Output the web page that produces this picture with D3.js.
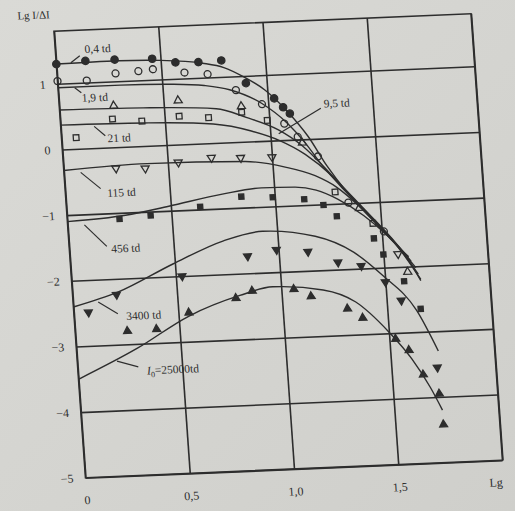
<!doctype html>
<html lang='en'>
<head>
<meta charset="utf-8">
<script src="https://d3js.org/d3.v7.min.js"></script>
<title>Lg I/ΔI</title>
<style>
  body{
    margin: 0;
    background: #d5d5d1;
  }
  svg{
    display: block;
    font-family: "Liberation Serif", "DejaVu Serif", serif;
  }
</style>
</head>
<body>
<div id='chart'></div>
<script>
// fitted curves, [lg t, lg I/dI]
const curve04 = [[0,1.3],[0.3,1.31],[0.5,1.29],[0.7,1.22],[0.8,1.14],[0.89,0.99],[0.99,0.77],[1.09,0.43],[1.18,0.04],[1.26,-0.42],[1.34,-0.8],[1.44,-1.18],[1.54,-1.55],[1.61,-1.88],[1.67,-2.2]];
const curve19 = [[0,0.94],[0.3,0.94],[0.55,0.92],[0.7,0.88],[0.82,0.8],[0.97,0.57],[1.08,0.27],[1.16,-0.04],[1.24,-0.42],[1.33,-0.78],[1.43,-1.15],[1.53,-1.52],[1.6,-1.82],[1.66,-2.12]];
const curve95 = [[0,0.6],[0.4,0.58],[0.75,0.52],[0.89,0.37],[1.04,0.16],[1.15,-0.1],[1.25,-0.45],[1.34,-0.8],[1.44,-1.17],[1.54,-1.55],[1.6,-1.8],[1.65,-2.02]];
const curve21 = [[0,0.37],[0.4,0.35],[0.73,0.29],[0.91,0.16],[1.04,0.0],[1.16,-0.23],[1.28,-0.57],[1.37,-0.9],[1.47,-1.27],[1.56,-1.62],[1.63,-1.92]];
const curve115 = [[0,-0.32],[0.4,-0.27],[0.87,-0.3],[1.06,-0.41],[1.2,-0.56],[1.3,-0.75],[1.4,-1.05],[1.5,-1.42],[1.57,-1.68],[1.62,-1.85]];
const curve456 = [[0,-1.1],[0.28,-1.04],[0.49,-0.93],[0.75,-0.78],[0.94,-0.71],[1.1,-0.72],[1.2,-0.78],[1.3,-0.93],[1.42,-1.2],[1.52,-1.5],[1.6,-1.8],[1.67,-2.22]];
const curve3400 = [[0,-2.4],[0.22,-2.2],[0.49,-1.81],[0.74,-1.49],[0.93,-1.37],[1.18,-1.48],[1.36,-1.75],[1.49,-2.12],[1.64,-2.67],[1.73,-3.3]];
const curve25000 = [[0,-3.5],[0.29,-3.07],[0.55,-2.61],[0.8,-2.33],[0.96,-2.22],[1.2,-2.3],[1.35,-2.5],[1.5,-2.98],[1.6,-3.4],[1.68,-3.85],[1.73,-4.2]];

// measured points
const pts04 = [[0,1.3],[0.14,1.33],[0.28,1.33],[0.46,1.32],[0.57,1.25],[0.68,1.24],[0.79,1.25],[0.9,0.89],[1.03,0.64],[1.07,0.5],[1.1,0.4]];
const pts19 = [[0,1.04],[0.14,1.03],[0.28,1.12],[0.39,1.14],[0.46,1.16],[0.61,1.09],[0.72,1.05],[0.85,0.79],[0.97,0.56],[1.07,0.25],[1.13,0.04],[1.22,-0.27],[1.35,-0.99],[1.51,-1.45]];
const pts95 = [[0.26,0.63],[0.57,0.67],[0.87,0.54],[1.15,-0.05],[1.4,-1.08],[1.61,-2.08]];
const pts21 = [[0.07,0.17],[0.25,0.43],[0.39,0.38],[0.57,0.43],[0.71,0.39],[0.87,0.45],[0.99,0.31],[1.29,-0.82],[1.46,-1.32]];
const pts115 = [[0.25,-0.32],[0.39,-0.34],[0.55,-0.27],[0.71,-0.22],[0.85,-0.24],[1.0,-0.25],[1.57,-1.8]];
const pts456 = [[0.25,-1.09],[0.4,-1.06],[0.64,-0.96],[0.84,-0.83],[0.99,-0.86],[1.14,-0.91],[1.23,-1.01],[1.29,-1.19],[1.46,-1.55],[1.5,-1.8],[1.59,-2.22],[1.66,-2.65]];
const pts3400 = [[0.07,-2.49],[0.21,-2.24],[0.53,-2.0],[0.85,-1.74],[0.99,-1.66],[1.14,-1.71],[1.28,-1.89],[1.39,-1.96],[1.5,-2.22],[1.57,-2.51],[1.72,-3.55]];
const pts25000 = [[0.25,-2.8],[0.39,-2.79],[0.55,-2.56],[0.78,-2.37],[0.86,-2.27],[1.06,-2.27],[1.14,-2.39],[1.31,-2.6],[1.38,-2.75],[1.53,-3.09],[1.59,-3.27],[1.65,-3.65],[1.72,-3.95],[1.73,-4.42]];

const xTicks = [0, 0.5, 1, 1.5, 2];
const xTickLabels = ['0', '0,5', '1,0', '1,5', ''];
const yTicks = [1, 0, -1, -2, -3, -4, -5];
const yTickLabels = ['1', '0', '−1', '−2', '−3', '−4', '−5'];

// curve labels: text, text anchor point, pointer from, pointer to
const labels = [
  {text: '0,4 td', at: [0.14, 1.45], from: [0.07, 1.31], to: [0.115, 1.41]},
  {text: '1,9 td', at: [0.11, 0.71], from: [0.08, 0.93], to: [0.11, 0.85]},
  {text: '21 td', at: [0.22, 0.08], from: [0.16, 0.33], to: [0.21, 0.18]},
  {text: '9,5 td', at: [1.265, 0.47], from: [1.04, 0.1], to: [1.25, 0.46]},
  {text: '115 td', at: [0.2, -0.75], from: [0.08, -0.36], to: [0.17, -0.62]},
  {text: '456 td', at: [0.2, -1.6], from: [0.08, -1.16], to: [0.18, -1.5]},
  {text: '3400 td', at: [0.25, -2.63], from: [0.12, -2.34], to: [0.21, -2.53]},
  {text: '=25000td', sub: true, at: [0.33, -3.47], from: [0.19, -3.25], to: [0.29, -3.35]}
];

const ink = '#2d2d2d';
const wsvg = 515, hsvg = 511;
const W = 417, H = 446.5;

const xScale = d3.scaleLinear().domain([0, 2]).range([0, W]);
const yScale = d3.scaleLinear().domain([1.8, -5]).range([0, H]);

const svg = d3.select('#chart')
  .append('svg')
  .attr('width', wsvg)
  .attr('height', hsvg);

const grad = svg.append('defs').append('linearGradient')
  .attr('id', 'paper')
  .attr('x1', 0).attr('y1', 0).attr('x2', 1).attr('y2', 1);
grad.append('stop').attr('offset', 0).attr('stop-color', '#dadad6');
grad.append('stop').attr('offset', 1).attr('stop-color', '#cfcfcb');

svg.append('rect')
  .attr('width', wsvg)
  .attr('height', hsvg)
  .attr('fill', 'url(#paper)');

// the page is photographed slightly turned, so the whole plot sits in a skewed frame
const plot = svg.append('g')
  .attr('transform', 'matrix(1,-0.042,0.0705,1,54,31.25)');

const yAxis = d3.axisLeft(yScale)
  .tickValues(yTicks)
  .tickSize(-W)
  .tickPadding(12)
  .tickFormat((d, i) => yTickLabels[i]);

const xAxis = d3.axisBottom(xScale)
  .tickValues(xTicks)
  .tickSize(-H)
  .tickPadding(18)
  .tickFormat((d, i) => xTickLabels[i]);

const gy = plot.append('g').attr('id', 'y-axis').call(yAxis);
const gx = plot.append('g').attr('id', 'x-axis')
  .attr('transform', 'translate(0,' + H + ')')
  .call(xAxis);

[gx, gy].forEach(g => {
  g.select('.domain').remove();
  g.selectAll('line').attr('stroke', ink).attr('stroke-width', 1.6);
  g.selectAll('text')
    .attr('fill', ink)
    .attr('font-size', 12)
    .attr('font-family', '"Liberation Serif", serif');
});

// frame
plot.append('rect')
  .attr('x', xScale(0))
  .attr('y', yScale(1.8))
  .attr('width', xScale(2) - xScale(0))
  .attr('height', yScale(-5) - yScale(1.8))
  .attr('fill', 'none')
  .attr('stroke', ink)
  .attr('stroke-width', 1.6);

plot.append('text')
  .attr('x', xScale(-0.17))
  .attr('y', yScale(2.0))
  .attr('fill', ink)
  .attr('font-size', 11)
  .text('Lg I/ΔI');

plot.append('text')
  .attr('x', xScale(1.93))
  .attr('y', H + 26)
  .attr('fill', ink)
  .attr('font-size', 12)
  .text('Lg');

const line = d3.line()
  .x(d => xScale(d[0]))
  .y(d => yScale(d[1]))
  .curve(d3.curveMonotoneX);

[curve04, curve19, curve95, curve21, curve115, curve456, curve3400, curve25000].forEach(c => {
  plot.append('path')
    .datum(c)
    .attr('d', line)
    .attr('fill', 'none')
    .attr('stroke', ink)
    .attr('stroke-width', 1.4);
});

const series = [
  {pts: pts04, type: d3.symbolCircle, size: 42, filled: true, flip: false},
  {pts: pts19, type: d3.symbolCircle, size: 38, filled: false, flip: false},
  {pts: pts95, type: d3.symbolTriangle, size: 28, filled: false, flip: false},
  {pts: pts21, type: d3.symbolSquare, size: 32, filled: false, flip: false},
  {pts: pts115, type: d3.symbolTriangle, size: 28, filled: false, flip: true},
  {pts: pts456, type: d3.symbolSquare, size: 26, filled: true, flip: false},
  {pts: pts3400, type: d3.symbolTriangle, size: 27, filled: true, flip: true},
  {pts: pts25000, type: d3.symbolTriangle, size: 27, filled: true, flip: false}
];

series.forEach(s => {
  plot.append('g')
    .selectAll('path')
    .data(s.pts)
    .enter()
    .append('path')
    .attr('d', d3.symbol().type(s.type).size(s.size))
    .attr('transform', d => 'translate(' + xScale(d[0]) + ',' + yScale(d[1]) + ')' + (s.flip ? ' rotate(180)' : ''))
    .attr('fill', s.filled ? ink : 'none')
    .attr('stroke', ink)
    .attr('stroke-width', 1.3);
});

labels.forEach(l => {
  plot.append('line')
    .attr('x1', xScale(l.from[0]))
    .attr('y1', yScale(l.from[1]))
    .attr('x2', xScale(l.to[0]))
    .attr('y2', yScale(l.to[1]))
    .attr('stroke', ink)
    .attr('stroke-width', 1.2);
  const t = plot.append('text')
    .attr('x', xScale(l.at[0]))
    .attr('y', yScale(l.at[1]))
    .attr('fill', ink)
    .attr('font-size', 11.5);
  if (l.sub) {
    t.append('tspan').attr('font-style', 'italic').text('I');
    t.append('tspan').attr('font-size', 8).attr('dy', 3).text('0');
    t.append('tspan').attr('dy', -3).text(l.text);
  } else {
    t.text(l.text);
  }
});
</script>
</body>
</html>
